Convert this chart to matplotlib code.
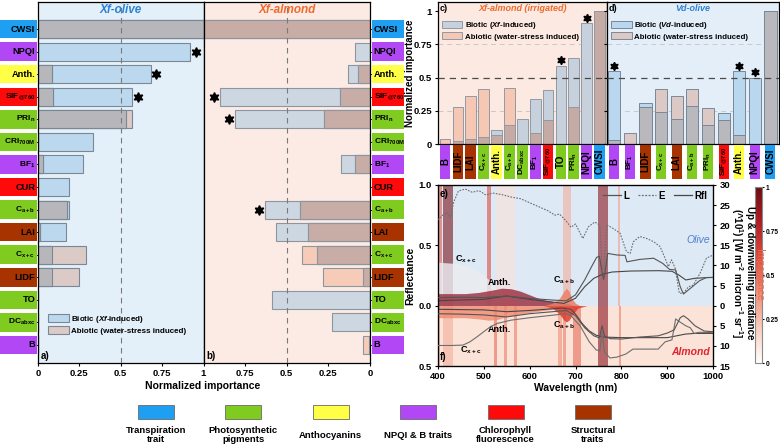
import numpy as np
import matplotlib
matplotlib.use('Agg')
import matplotlib.pyplot as plt
from matplotlib.patches import Rectangle, Patch
from matplotlib.lines import Line2D
from matplotlib.colors import LinearSegmentedColormap, Normalize
from matplotlib.cm import ScalarMappable

plt.rcParams['font.family'] = ['Liberation Sans', 'DejaVu Sans']
plt.rcParams['font.weight'] = 'bold'
plt.rcParams['axes.labelweight'] = 'bold'
plt.rcParams['mathtext.fontset'] = 'custom'
plt.rcParams['mathtext.rm'] = 'Liberation Sans:bold'
plt.rcParams['mathtext.it'] = 'Liberation Sans:italic:bold'
plt.rcParams['mathtext.bf'] = 'Liberation Sans:bold'
plt.rcParams['mathtext.default'] = 'rm'

# ---------------- data ----------------
group_names = ['Transpiration\ntrait', 'Photosynthetic\npigments', 'Anthocyanins',
               'NPQI & B traits', 'Chlorophyll\nfluorescence', 'Structural\ntraits']
group_keys = ['T', 'P', 'A', 'N', 'F', 'S']
group_hex = ['#1f9ff2', '#7fcb1f', '#ffff45', '#b247f6', '#ff0a0a', '#a63300']

# panels a / b (top to bottom)
traits_ab = ['CWSI', 'NPQI', 'Anth.', 'SIF$_{@760}$', 'PRI$_n$', 'CRI$_{700M}$', 'BF$_1$', 'CUR',
             'C$_{a+b}$', 'LAI', 'C$_{x+c}$', 'LIDF', 'TO', 'DC$_{abxc}$', 'B']
groups_ab = ['T', 'N', 'A', 'F', 'P', 'P', 'N', 'F', 'P', 'S', 'P', 'S', 'P', 'P', 'N']
olive_biotic = [1.0, 0.92, 0.68, 0.57, 0.53, 0.335, 0.27, 0.186, 0.185, 0.17, 0.085, 0.085, 0, 0, 0]
olive_abiotic = [1.0, 0, 0.083, 0.093, 0.57, 0, 0.032, 0, 0.175, 0.01, 0.29, 0.247, 0, 0, 0]
olive_sig = [0, 1, 1, 1, 0, 0, 0, 0, 0, 0, 0, 0, 0, 0, 0]
almond_biotic = [1.0, 0.089, 0.13, 0.90, 0.81, 0, 0.175, 0, 0.63, 0.565, 0.32, 0.04, 0.59, 0.228, 0.005]
almond_abiotic = [1.0, 0, 0.07, 0.18, 0.276, 0, 0.089, 0, 0.42, 0.37, 0.41, 0.28, 0, 0, 0.04]
almond_sig = [0, 0, 0, 1, 1, 0, 0, 0, 1, 0, 0, 0, 0, 0, 0]

# panel c
traits_c = ['B', 'LIDF', 'LAI', 'C$_{x+c}$', 'Anth.', 'C$_{a+b}$', 'DC$_{abxc}$', 'BF$_1$',
            'SIF$_{@760}$', 'TO', 'PRI$_n$', 'NPQI', 'CWSI']
groups_c = ['N', 'S', 'S', 'P', 'A', 'P', 'P', 'N', 'F', 'P', 'P', 'N', 'T']
irr_biotic = [0.0, 0.025, 0.035, 0.05, 0.105, 0.143, 0.188, 0.336, 0.404, 0.59, 0.644, 0.907, 1.0]
irr_abiotic = [0.035, 0.276, 0.363, 0.41, 0.07, 0.42, 0, 0.085, 0.178, 0, 0.276, 0, 1.0]
irr_sig = [0, 0, 0, 0, 0, 0, 0, 0, 0, 1, 0, 1, 0]

# panel d
traits_d = ['B', 'BF$_1$', 'LIDF', 'C$_{x+c}$', 'LAI', 'C$_{a+b}$', 'PRI$_n$', 'SIF$_{@760}$',
            'Anth.', 'NPQI', 'CWSI']
groups_d = ['N', 'N', 'S', 'P', 'S', 'P', 'P', 'F', 'A', 'N', 'T']
vd_biotic = [0.549, 0, 0.305, 0.238, 0.188, 0.286, 0.143, 0.23, 0.549, 0.5, 1.0]
vd_abiotic = [0.03, 0.08, 0.276, 0.41, 0.363, 0.416, 0.268, 0.178, 0.07, 0, 1.0]
vd_sig = [1, 0, 0, 0, 0, 0, 0, 0, 1, 1, 0]

# panel e/f spectra (olive up, almond mirrored down)
e_wl_olive = [400, 410, 420, 427, 435, 445, 460, 475, 490, 505, 520, 540, 560, 580, 600, 620, 640, 655, 665, 680,
              690, 700, 716, 728, 742, 753, 758, 762, 768, 782, 797, 811, 819, 826, 840, 855, 870, 884, 895, 902,
              909, 917, 926, 935, 946, 956, 971, 985, 1000]
e_olive = [21.3, 22.4, 23.2, 21.8, 25.8, 28.5, 29.0, 28.2, 28.6, 27.5, 28.0, 27.6, 27.0, 26.6, 25.6, 24.6, 23.6,
           22.5, 22.8, 21.0, 19.5, 20.3, 16.7, 19.6, 20.8, 20.0, 9.8, 8.9, 20.1, 19.2, 18.0, 13.4, 13.0, 15.9,
           17.2, 16.7, 15.9, 14.7, 11.8, 9.7, 11.4, 9.3, 3.1, 3.1, 4.7, 5.1, 8.0, 11.8, 12.6]
l_wl_olive = [400, 450, 500, 550, 600, 650, 680, 700, 720, 735, 746, 752, 757, 761, 765, 770, 790, 808, 812, 840,
              870, 890, 905, 918, 928, 935, 950, 970, 985, 1000]
l_olive = [2.0, 2.1, 2.0, 2.4, 1.8, 1.4, 1.2, 2.7, 6.4, 9.7, 12.0, 12.3, 8.9, 6.5, 8.9, 13.0, 12.6, 12.5, 10.9,
           11.5, 11.8, 10.5, 9.0, 8.9, 4.7, 2.9, 4.3, 6.2, 7.0, 7.0]
r_wl_olive = [400, 450, 500, 550, 600, 650, 675, 700, 720, 740, 760, 780, 820, 880, 910, 925, 940, 960, 1000]
r_olive = [0.041, 0.047, 0.052, 0.08, 0.052, 0.03, 0.019, 0.061, 0.157, 0.227, 0.262, 0.279, 0.287, 0.29,
           0.285, 0.254, 0.213, 0.227, 0.235]

e_wl_alm = [400, 430, 455, 470, 485, 500, 515, 530, 560, 600, 640, 680, 690, 710, 730, 745, 753, 758, 763, 775,
            790, 810, 825, 850, 880, 895, 910, 918, 924, 932, 940, 950, 958, 970, 985, 1000]
e_alm = [9.9, 9.9, 9.8, 9.0, 7.8, 6.5, 5.2, 4.4, 3.6, 3.0, 2.5, 2.0, 2.5, 5.0, 9.0, 11.0, 11.2, 6.5, 11.5, 13.0,
         12.8, 12.0, 10.8, 10.8, 10.8, 9.0, 8.5, 3.3, 3.8, 4.4, 5.0, 5.5, 6.9, 6.6, 6.7, 6.6]
l_wl_alm = [400, 450, 500, 550, 600, 650, 680, 700, 720, 740, 752, 758, 763, 775, 800, 840, 880, 900, 915, 928,
            935, 945, 960, 980, 1000]
l_alm = [2.0, 2.1, 2.3, 2.8, 2.0, 1.5, 1.2, 2.5, 5.5, 7.5, 8.0, 5.0, 7.5, 8.2, 8.3, 7.8, 7.5, 6.8, 6.0, 3.0, 2.5,
         3.3, 5.0, 6.3, 6.5]
r_wl_alm = [400, 500, 550, 600, 670, 690, 700, 715, 730, 745, 760, 800, 850, 900, 920, 940, 960, 1000]
r_alm = [0.03, 0.035, 0.05, 0.04, 0.02, 0.03, 0.07, 0.15, 0.21, 0.245, 0.26, 0.265, 0.265, 0.265, 0.25, 0.235,
         0.23, 0.23]

# importance envelopes
cxc_wl = [400, 440, 470, 490, 510, 525, 540]
cxc_olive = [0.36, 0.35, 0.32, 0.28, 0.22, 0.16, 0.10]
anth_wl = [400, 430, 460, 490, 520, 540, 560, 580, 600, 620, 640, 660, 680, 700]
anth_olive = [0.10, 0.10, 0.10, 0.11, 0.13, 0.145, 0.14, 0.12, 0.09, 0.06, 0.04, 0.03, 0.02, 0.0]
cab_wl_olive = [630, 650, 665, 675, 680, 686, 692, 700, 710]
cab_olive = [0.0, 0.02, 0.06, 0.12, 0.145, 0.12, 0.06, 0.02, 0.0]
anth_wl_alm = [400, 430, 460, 490, 510, 530, 550, 580, 610, 640, 670, 700, 720]
anth_alm = [0.10, 0.10, 0.10, 0.11, 0.12, 0.115, 0.09, 0.07, 0.05, 0.035, 0.02, 0.01, 0.0]
cab_wl_alm = [630, 650, 665, 675, 680, 686, 694, 705, 725]
cab_alm = [0.0, 0.02, 0.07, 0.12, 0.135, 0.12, 0.07, 0.02, 0.0]

olive_band_start = [400, 411, 508, 528, 672, 750, 793]
olive_band_end = [409, 434, 515, 568, 690, 771, 797]
olive_band_imp = [0.55, 0.95, 0.6, 0.12, 0.3, 0.9, 0.35]
almond_band_start = [400, 412, 523, 544, 566, 661, 673, 695, 750, 794]
almond_band_end = [404, 434, 530, 550, 572, 670, 679, 713, 771, 799]
almond_band_imp = [0.35, 0.3, 0.5, 0.45, 0.45, 0.4, 0.45, 0.5, 0.9, 0.45]

# ---------------- figure ----------------
W, H = 780, 447
fig = plt.figure(figsize=(W / 100, H / 100), dpi=100)


def rect(l, t, r, b):
    return [l / W, 1 - b / H, (r - l) / W, (b - t) / H]


gcol = dict(zip(group_keys, group_hex))

# ---- panels a and b ----
n = len(traits_ab)
yy = np.arange(n)
ax_a = fig.add_axes(rect(38, 2, 203.5, 363))
ax_b = fig.add_axes(rect(203.5, 2, 370, 363))
specs = [
    (ax_a, olive_biotic, olive_abiotic, olive_sig, '#e3eff9', '#bcd8ef', '#dccac6', '#b7b7bb', '#7a8896'),
    (ax_b, almond_biotic, almond_abiotic, almond_sig, '#fcebe4', '#cdd7e2', '#f6cbb8', '#c8aca6', '#8c96a0'),
]
for ax, bio, abio, sig, bg, cb, ca, co, ce in specs:
    bio = np.array(bio); abio = np.array(abio)
    ax.set_facecolor(bg)
    ax.barh(yy, bio, height=0.8, color=cb, edgecolor=ce, lw=0.8)
    ax.barh(yy, abio, height=0.8, color=ca, edgecolor=ce, lw=0.8)
    ax.barh(yy, np.minimum(bio, abio), height=0.8, color=co, edgecolor=ce, lw=0.8)
    ax.axvline(0.5, ls=(0, (5, 4)), color='#7a7a7a', lw=0.8, zorder=3)
    for i in range(n):
        if sig[i]:
            ax.plot(bio[i] + 0.035, i, marker=(6, 1, 0), color='black', ms=7, zorder=4)
    ax.set_ylim(14.8, -1.2)
    ax.set_yticks(yy)
    ax.set_yticklabels([])
    ax.tick_params(axis='y', length=2, width=0.6)
    ax.tick_params(axis='x', labelsize=6.8, length=2.5, pad=2)
    for s in ax.spines.values():
        s.set_linewidth(0.9)
ax_a.set_xlim(0, 1)
ax_a.set_xticks([0, 0.25, 0.5, 0.75, 1])
ax_a.set_xticklabels(['0', '0.25', '0.5', '0.75', '1'])
ax_b.set_xlim(1, 0)
ax_b.set_xticks([0.75, 0.5, 0.25, 0])
ax_b.set_xticklabels(['0.75', '0.5', '0.25', '0'])
ax_b.yaxis.tick_right()
ax_a.text(0.5, 0.995, 'Xf-olive', transform=ax_a.transAxes, ha='center', va='top',
          fontsize=8.5, fontstyle='italic', color='#2b82d6')
ax_b.text(0.5, 0.995, 'Xf-almond', transform=ax_b.transAxes, ha='center', va='top',
          fontsize=8.5, fontstyle='italic', color='#ef6b2c')
ax_a.text(0.015, 0.012, 'a)', transform=ax_a.transAxes, fontsize=7)
ax_b.text(0.015, 0.012, 'b)', transform=ax_b.transAxes, fontsize=7)
ax_a.legend(handles=[Patch(fc='#bcd8ef', ec='#7a8896', lw=0.8, label='Biotic ($\\mathit{Xf}$-induced)'),
                     Patch(fc='#dccac6', ec='#7a8896', lw=0.8, label='Abiotic (water-stress induced)')],
            loc='lower left', bbox_to_anchor=(0.04, 0.07), frameon=False, fontsize=5.8,
            handlelength=2.6, handleheight=1.1, handletextpad=0.3, labelspacing=0.1, borderaxespad=0)
fig.text(203 / W, 1 - 386 / H, 'Normalized importance', ha='center', va='center', fontsize=7.5)

# label columns
ax_la = fig.add_axes(rect(0, 2, 37, 363))
ax_rb = fig.add_axes(rect(371.5, 2, 404.5, 363))
for axl, xt, ha in [(ax_la, 0.95, 'right'), (ax_rb, 0.07, 'left')]:
    axl.set_xlim(0, 1); axl.set_ylim(14.8, -1.2); axl.axis('off')
    for i, (lab, g) in enumerate(zip(traits_ab, groups_ab)):
        axl.add_patch(Rectangle((0, i - 0.41), 1, 0.82, color=gcol[g], lw=0))
        fs = 6.7 if len(lab) <= 5 else 6.0
        axl.text(xt, i, lab, ha=ha, va='center', fontsize=fs, color='black')

# ---- panels c and d ----
ax_c = fig.add_axes(rect(437.7, 2, 607.3, 144))
ax_d = fig.add_axes(rect(607.3, 2, 779, 144))
cd_specs = [
    (ax_c, irr_biotic, irr_abiotic, irr_sig, (-0.57, 12.6), 0.83, '#fbe9e2', '#c6d1dd', '#f6c7b2', '#c6aba5',
     '#8f9aa6', 'Biotic ($\\mathit{Xf}$-induced)', 'Xf-almond (irrigated)', '#ef6b2c', 'c)'),
    (ax_d, vd_biotic, vd_abiotic, vd_sig, (-0.45, 10.55), 0.78, '#e3eef8', '#b9d7ee', '#dcc9c5', '#b9b9bd',
     '#7a8896', 'Biotic ($\\mathit{Vd}$-induced)', 'Vd-olive', '#2b82d6', 'd)'),
]
for ax, bio, abio, sig, xl, bw, bg, cb, ca, co, ce, blab, title, tcol, tag in cd_specs:
    bio = np.array(bio); abio = np.array(abio)
    x = np.arange(len(bio))
    ax.set_facecolor(bg)
    for gy in [0.25, 0.75]:
        ax.axhline(gy, ls=(0, (5, 4)), color='#c9c9c9', lw=0.7, zorder=0.5)
    ax.bar(x, bio, width=bw, color=cb, edgecolor=ce, lw=0.7)
    ax.bar(x, abio, width=bw, color=ca, edgecolor=ce, lw=0.7)
    ax.bar(x, np.minimum(bio, abio), width=bw, color=co, edgecolor=ce, lw=0.7)
    ax.axhline(0.5, ls=(0, (5, 4)), color='#4a4a4a', lw=0.9, zorder=3)
    for i in range(len(bio)):
        if sig[i]:
            ax.plot(i, bio[i] + 0.04, marker=(6, 1, 0), color='black', ms=6, zorder=4)
    ax.set_xlim(*xl)
    ax.set_ylim(0, 1.068)
    ax.set_xticks([])
    ax.set_yticks([0, 0.25, 0.5, 0.75, 1])
    ax.tick_params(axis='y', labelsize=6.8, length=2, pad=2)
    for s in ax.spines.values():
        s.set_linewidth(0.9)
    ax.text(0.5, 0.985, title, transform=ax.transAxes, ha='center', va='top', fontsize=6.5,
            fontstyle='italic', color=tcol)
    ax.text(0.01, 0.985, tag, transform=ax.transAxes, ha='left', va='top', fontsize=6.5)
    ax.legend(handles=[Patch(fc=cb, ec=ce, lw=0.7, label=blab),
                       Patch(fc=ca, ec=ce, lw=0.7,
                             label='Abiotic (water-stress induced)')],
              loc='upper left', bbox_to_anchor=(0.0, 0.9), frameon=False, fontsize=5.7,
              handlelength=2.6, handleheight=1.0, handletextpad=0.3, labelspacing=0.15, borderaxespad=0.1)
ax_c.set_yticklabels(['0', '0.25', '0.5', '0.75', '1'])
fig.text(410 / W, 1 - 73 / H, 'Normalized importance', rotation=90, ha='center', va='center', fontsize=7)
ax_d.set_yticklabels([])

ax_cl = fig.add_axes(rect(437.7, 145, 607.3, 178.5))
ax_dl = fig.add_axes(rect(607.3, 145, 779, 178.5))
for axl, labs, grps, xl, bw in [(ax_cl, traits_c, groups_c, (-0.57, 12.6), 0.83),
                               (ax_dl, traits_d, groups_d, (-0.45, 10.55), 0.65)]:
    axl.set_xlim(*xl); axl.set_ylim(0, 1); axl.axis('off')
    for i, (lab, g) in enumerate(zip(labs, grps)):
        axl.add_patch(Rectangle((i - bw / 2, 0), bw, 1, color=gcol[g], lw=0))
        fs = 7.0 if len(lab) <= 5 else 5.8
        axl.text(i, 0.5, lab, rotation=90, ha='center', va='center', fontsize=fs, clip_on=True)

# ---- panel e / f ----
cmap = LinearSegmentedColormap.from_list('imp', [(0, '#ffffff'), (0.2, '#f8cdbd'), (0.4, '#f08d77'),
                                                  (0.6, '#de4a3e'), (0.8, '#ad1d24'), (1.0, '#6a0e15')])
ax_e = fig.add_axes(rect(437.7, 185, 713.3, 366))
ax_e.set_xlim(400, 1000)
ax_e.set_ylim(-0.5, 1.0)
ax_e.axhspan(0, 1.0, color='#dde9f5', lw=0, zorder=0)
ax_e.axhspan(-0.5, 0, color='#fbe3d8', lw=0, zorder=0)
for s, e, v in zip(olive_band_start, olive_band_end, olive_band_imp):
    ax_e.fill_between([s, e], 0, 1.0, color=cmap(v), alpha=0.6, lw=0, zorder=1)
for s, e, v in zip(almond_band_start, almond_band_end, almond_band_imp):
    ax_e.fill_between([s, e], -0.5, 0, color=cmap(v), alpha=0.6, lw=0, zorder=1)
ax_e.fill_between(cxc_wl, 0, cxc_olive, color='#eceef1', alpha=0.8, lw=0, zorder=1.5)
ax_e.fill_between(anth_wl, 0, anth_olive, color='#9a2a3a', alpha=0.8, lw=0, zorder=2)
ax_e.fill_between(cab_wl_olive, 0, cab_olive, color='#e8806a', alpha=0.85, lw=0, zorder=2)
ax_e.fill_between(anth_wl_alm, 0, -np.array(anth_alm), color='#f08a70', alpha=0.8, lw=0, zorder=2)
ax_e.fill_between(cab_wl_alm, 0, -np.array(cab_alm), color='#e03c2c', alpha=0.85, lw=0, zorder=2)
ax_e.plot(r_wl_olive, r_olive, color='#474747', lw=0.8, zorder=4)
ax_e.plot(r_wl_alm, -np.array(r_alm), color='#474747', lw=0.8, zorder=4)
ax_e.set_xticks(range(400, 1001, 100))
ax_e.set_yticks([-0.5, 0, 0.5, 1.0])
ax_e.set_yticklabels(['0.5', '0.0', '0.5', '1.0'])
ax_e.tick_params(labelsize=6.8, length=2.5, pad=2)
ax_e.set_xlabel('Wavelength (nm)', fontsize=7.5, labelpad=1)
ax_e.set_ylabel('Reflectance', fontsize=7.5, labelpad=2)

ax_r = ax_e.twinx()
ax_r.set_ylim(-15, 30)
ax_r.plot(e_wl_olive, e_olive, color='#6e6e6e', lw=0.8, ls=(0, (1.5, 1.2)), zorder=4)
ax_r.plot(l_wl_olive, l_olive, color='#555555', lw=0.8, zorder=4)
ax_r.plot(e_wl_alm, -np.array(e_alm), color='#6e6e6e', lw=0.8, zorder=4)
ax_r.plot(l_wl_alm, -np.array(l_alm), color='#555555', lw=0.8, zorder=4)
ax_r.set_yticks(np.arange(-15, 31, 5))
ax_r.set_yticklabels([str(abs(v)) for v in range(-15, 31, 5)])
ax_r.tick_params(labelsize=6.8, length=2.5, pad=2)
fig.text(742 / W, 1 - 273 / H,
         'Up & downwelling irradiance\n(^10$^{1}$) [W m$^{-2}$ micron$^{-1}$ sr$^{-1}$]',
         rotation=270, ha='center', va='center', fontsize=7, linespacing=1.0, multialignment='center')
ax_r.legend(handles=[Line2D([], [], color='#555555', lw=0.9, label='L'),
                     Line2D([], [], color='#6e6e6e', lw=0.9, ls=(0, (1.5, 1.2)), label='E'),
                     Line2D([], [], color='#474747', lw=0.9, label='Rfl')],
            loc='upper right', ncol=3, frameon=False, fontsize=7, handlelength=1.8,
            columnspacing=0.9, handletextpad=0.3, borderaxespad=0.2)
for s in ax_e.spines.values():
    s.set_linewidth(0.9)

ax_e.text(405, 0.97, 'e)', fontsize=7, va='top')
ax_e.text(405, -0.47, 'f)', fontsize=7, va='bottom')
ax_e.text(437, 0.37, 'C$_{x+c}$', fontsize=6.5)
ax_e.text(510, 0.17, 'Anth.', fontsize=6.5)
ax_e.text(652, 0.19, 'C$_{a+b}$', fontsize=6.5)
ax_e.text(652, -0.18, 'C$_{a+b}$', fontsize=6.5)
ax_e.text(510, -0.22, 'Anth.', fontsize=6.5)
ax_e.text(448, -0.39, 'C$_{x+c}$', fontsize=6.5)
ax_e.text(993, 0.545, 'Olive', fontsize=7.5, fontstyle='italic', fontweight='normal', color='#4d7fce',
          ha='right', va='center')
ax_e.text(993, -0.38, 'Almond', fontsize=7.5, fontstyle='italic', color='#df2430', ha='right', va='center')

# colorbar
cax = fig.add_axes(rect(755, 187, 762, 363))
cbar = fig.colorbar(ScalarMappable(norm=Normalize(0, 1), cmap=cmap), cax=cax)
cbar.set_ticks([0, 0.25, 0.5, 0.75, 1])
cbar.set_ticklabels(['0', '0.25', '0.5', '0.75', '1'])
cbar.ax.tick_params(labelsize=4.8, length=1.5, pad=1)
cbar.outline.set_edgecolor('#8a8a8a')
cbar.outline.set_linewidth(0.8)
fig.text(759 / W, 1 - 275 / H, 'Importance', rotation=270, ha='center', va='center', fontsize=7.5,
         color='#f06a4a', fontweight='normal')

# bottom legend
for k, (name, hx) in enumerate(zip(group_names, group_hex)):
    xl = 138 + 87.4 * k
    fig.add_artist(Rectangle((xl / W, 1 - 419 / H), 36 / W, 14 / H, transform=fig.transFigure,
                             fc=hx, ec='#6a6a6a', lw=0.6))
    fig.text((xl + 18) / W, 1 - 435 / H, name, ha='center', va='center', fontsize=6.8, linespacing=1.0)

fig.savefig('out.png', dpi=100)
